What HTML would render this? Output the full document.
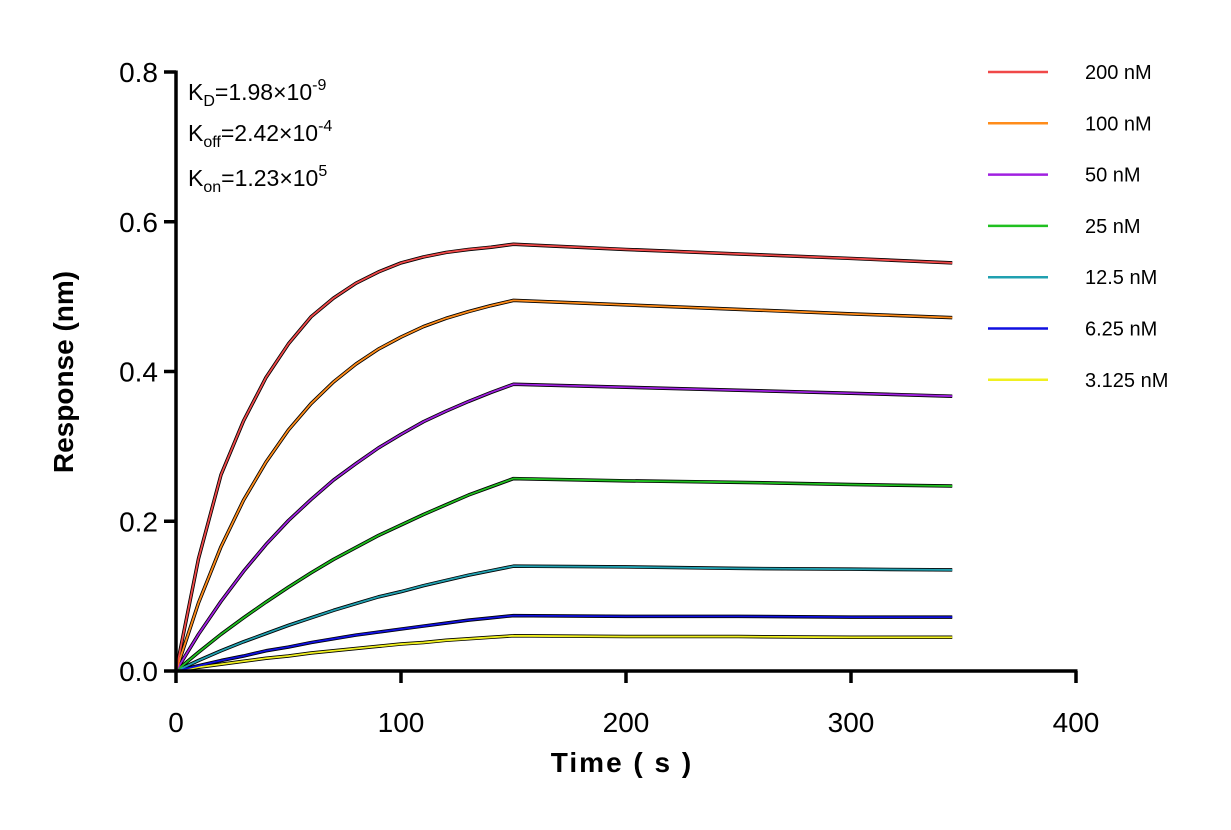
<!DOCTYPE html>
<html><head><meta charset="utf-8"><style>
body{margin:0;background:#fff;}
svg text{font-family:"Liberation Sans",Arial,sans-serif;}
</style></head><body>
<svg id="chart" width="1231" height="825">
<g id="plot"></g>
<g id="axes"></g>
<text x="188" y="100" font-size="23">K<tspan font-size="16" dy="6">D</tspan><tspan dy="-6">=1.98×10</tspan><tspan font-size="16" dy="-10">-9</tspan></text>
<text x="188" y="141" font-size="23">K<tspan font-size="16" dy="6">off</tspan><tspan dy="-6">=2.42×10</tspan><tspan font-size="16" dy="-10">-4</tspan></text>
<text x="188" y="186" font-size="23">K<tspan font-size="16" dy="6">on</tspan><tspan dy="-6">=1.23×10</tspan><tspan font-size="16" dy="-10">5</tspan></text>
<text transform="translate(73,372) rotate(-90)" text-anchor="middle" font-size="28" font-weight="bold">Response (nm)</text>
<text x="622" y="772" text-anchor="middle" font-size="28" font-weight="bold" letter-spacing="2">Time ( s )</text>
<g id="legend"></g>
</svg>
<script>
const labels=["200 nM","100 nM","50 nM","25 nM","12.5 nM","6.25 nM","3.125 nM"];
const colors=["#f04848","#ff8c1a","#a020e0","#20c020","#20a0b0","#1010e0","#f0f020"];
const assocTimes=[0,10,20,30,40,50,60,70,80,90,100,110,120,130,140,150];
const dissocTimes=[150,200,250,300,345];
const assoc200=[0,.150,.262,.334,.392,.437,.473,.498,.518,.533,.545,.553,.559,.563,.566,.570];
const assoc100=[0,.091,.166,.228,.279,.322,.357,.386,.410,.430,.446,.460,.471,.480,.488,.495];
const assoc50=[0,.049,.093,.133,.169,.201,.229,.255,.277,.298,.316,.333,.347,.360,.372,.383];
const assoc25=[0,.025,.049,.071,.092,.112,.131,.149,.165,.181,.195,.209,.222,.235,.246,.257];
const assoc12=[0,.014,.027,.039,.050,.061,.071,.081,.090,.099,.106,.114,.121,.128,.134,.140];
const assoc6=[0,.007,.014,.020,.027,.032,.038,.043,.048,.052,.056,.060,.064,.068,.071,.074];
const assoc3=[0,.005,.009,.013,.017,.020,.024,.027,.030,.033,.036,.038,.041,.043,.045,.047];
const dissoc200=[.570,.563,.557,.551,.545];
const dissoc100=[.495,.489,.483,.477,.472];
const dissoc50=[.383,.379,.375,.371,.367];
const dissoc25=[.257,.254,.252,.249,.247];
const dissoc12=[.140,.139,.137,.136,.135];
const dissoc6=[.074,.073,.073,.072,.072];
const dissoc3=[.047,.046,.046,.045,.045];
const xTicks=[0,100,200,300,400];
const yTicks=[0,0.2,0.4,0.6,0.8];
const yTickLabels=["0.0","0.2","0.4","0.6","0.8"];

const assocs=[assoc200,assoc100,assoc50,assoc25,assoc12,assoc6,assoc3];
const dissocs=[dissoc200,dissoc100,dissoc50,dissoc25,dissoc12,dissoc6,dissoc3];
const NS="http://www.w3.org/2000/svg";
const X=t=>176+t*2.25;
const Y=v=>671-v*748.75;
function mk(tag,attrs,parent){const e=document.createElementNS(NS,tag);for(const k in attrs)e.setAttribute(k,attrs[k]);parent.appendChild(e);return e;}
const plot=document.getElementById('plot'),axes=document.getElementById('axes'),legend=document.getElementById('legend');
function pts(i){const p=[];assocTimes.forEach((t,j)=>p.push(X(t)+","+Y(assocs[i][j])));dissocTimes.forEach((t,j)=>{if(j>0)p.push(X(t)+","+Y(dissocs[i][j]));});return p.join(" ");}
for(let i=0;i<labels.length;i++){
 const f=mk('polyline',{points:pts(i),fill:'none',stroke:'#000','stroke-width':3.5,'stroke-linejoin':'round'},plot);
 
 
}
for(let i=labels.length-1;i>=0;i--){
 const l=mk('polyline',{points:pts(i),fill:'none',stroke:colors[i],'stroke-width':1.8,'stroke-linejoin':'round'},plot);
 
 
}
for(let i=0;i<labels.length;i++){
 const ly=72+i*51.3;
 const ll=mk('line',{x1:988,x2:1048,y1:ly,y2:ly,stroke:colors[i],'stroke-width':2.5},legend);
 
 
 const lt=mk('text',{x:1085,y:ly+7,'font-size':20},legend);
 lt.textContent=labels[i];
 
 
}
const ya=mk('line',{x1:176,x2:176,y1:Y(0.8)-1.5,y2:672.5,stroke:'#000','stroke-width':3.5},axes);


const xa=mk('line',{x1:174.5,x2:X(400)+1.5,y1:671,y2:671,stroke:'#000','stroke-width':3.5},axes);


yTicks.forEach((v,i)=>{
 mk('line',{x1:164,x2:176,y1:Y(v),y2:Y(v),stroke:'#000','stroke-width':3.5},axes);
 const t=mk('text',{x:158,y:Y(v)+10,'text-anchor':'end','font-size':28},axes);
 t.textContent=yTickLabels[i];
 
 
});
xTicks.forEach(v=>{
 mk('line',{x1:X(v),x2:X(v),y1:671,y2:683,stroke:'#000','stroke-width':3.5},axes);
 const t=mk('text',{x:X(v),y:732,'text-anchor':'middle','font-size':28},axes);
 t.textContent=v;
 
 
});
</script>
</body></html>
